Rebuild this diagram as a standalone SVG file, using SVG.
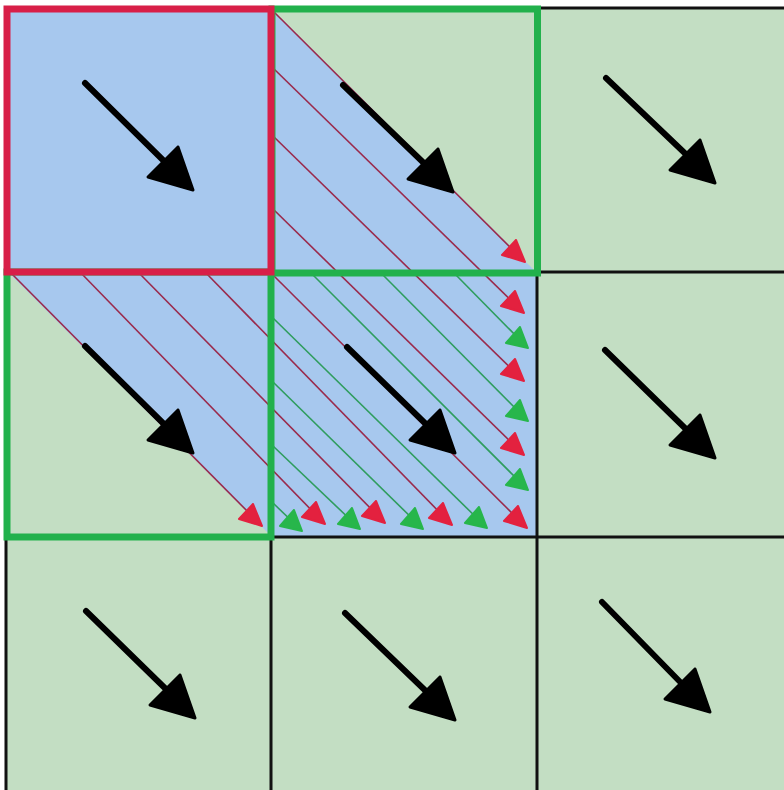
<svg xmlns="http://www.w3.org/2000/svg" xmlns:xlink="http://www.w3.org/1999/xlink" width="784" height="790" viewBox="0 0 784 790">
<style>
.grid{stroke:#111;stroke-width:3;fill:none}
.shaft{stroke:#000;stroke-width:6;stroke-linecap:round;fill:none}
.bh{fill:#000;stroke:#000;stroke-width:3;stroke-linejoin:round}
.rl{stroke:#9a2a4c;stroke-width:1.6;fill:none}
.gl{stroke:#2f9d5e;stroke-width:1.6;fill:none}
.rh{fill:#e3213f;stroke:#e3213f;stroke-width:2;stroke-linejoin:round}
.gh{fill:#27b64b;stroke:#27b64b;stroke-width:2;stroke-linejoin:round}
.gb{fill:none;stroke:#22b14c;stroke-width:7}
.rb{fill:none;stroke:#d81f48;stroke-width:7}
</style>
<defs>
<path id="bh" d="M0,0 L-15,-43 L-45,-13 Z"/>
<path id="rh" d="M0,0 L-9,-22 L-23,-7 Z"/>
<path id="gh" d="M0,0 L-8,-21 L-22,-5 Z"/>
</defs>
<rect x="0" y="0" width="784" height="790" fill="#ffffff"/>
<g id="background">
<rect x="6" y="8" width="778" height="782" fill="#c3dec3"/>
<polygon points="7,9 272,9 538,274 538,537 272,537 7,271" fill="#a7c8ee"/>
</g>
<g id="connectors">
<line class="rl" x1="272" y1="10" x2="522" y2="259"/>
<line class="rl" x1="272" y1="67" x2="521" y2="310"/>
<line class="rl" x1="272" y1="135" x2="521" y2="378"/>
<line class="rl" x1="272" y1="208" x2="521" y2="452"/>
<line class="rl" x1="272" y1="274" x2="524" y2="525"/>
<line class="rl" x1="205" y1="272" x2="449" y2="522"/>
<line class="rl" x1="138" y1="272" x2="382" y2="520"/>
<line class="rl" x1="80" y1="272" x2="322" y2="521"/>
<line class="rl" x1="10" y1="272" x2="259" y2="523"/>
<line class="gl" x1="455" y1="274" x2="525" y2="345"/>
<line class="gl" x1="382" y1="274" x2="525" y2="418"/>
<line class="gl" x1="312" y1="274" x2="525" y2="487"/>
<line class="gl" x1="273" y1="318" x2="484" y2="525"/>
<line class="gl" x1="273" y1="382" x2="420" y2="526"/>
<line class="gl" x1="273" y1="446" x2="357" y2="526"/>
<line class="gl" x1="273" y1="503" x2="299" y2="528"/>
<use href="#rh" class="rh" x="525" y="262"/>
<use href="#rh" class="rh" x="524" y="313"/>
<use href="#rh" class="rh" x="524" y="381"/>
<use href="#rh" class="rh" x="524" y="455"/>
<use href="#rh" class="rh" x="527" y="528"/>
<use href="#rh" class="rh" x="452" y="525"/>
<use href="#rh" class="rh" x="385" y="523"/>
<use href="#rh" class="rh" x="325" y="524"/>
<use href="#rh" class="rh" x="262" y="526"/>
<use href="#gh" class="gh" x="528" y="348"/>
<use href="#gh" class="gh" x="528" y="421"/>
<use href="#gh" class="gh" x="528" y="490"/>
<use href="#gh" class="gh" x="487" y="528"/>
<use href="#gh" class="gh" x="423" y="529"/>
<use href="#gh" class="gh" x="360" y="529"/>
<use href="#gh" class="gh" x="302" y="531"/>
</g>
<g id="grid">
<path class="grid" d="M6,8 H784 M6,272 H784 M6,537 H784 M6,8 V790 M271,8 V790 M537,8 V790"/>
<rect class="gb" x="272" y="9" width="265.5" height="264"/>
<rect class="gb" x="7" y="272" width="264" height="265"/>
<rect class="rb" x="7" y="9" width="264" height="263"/>
</g>
<g id="cell-0-0"><line class="shaft" x1="85" y1="83" x2="170" y2="167"/><use href="#bh" class="bh" x="193" y="190"/></g>
<g id="cell-0-1"><line class="shaft" x1="343" y1="85" x2="430" y2="169"/><use href="#bh" class="bh" x="453" y="192"/></g>
<g id="cell-0-2"><line class="shaft" x1="606" y1="78" x2="692" y2="160"/><use href="#bh" class="bh" x="715" y="183"/></g>
<g id="cell-1-0"><line class="shaft" x1="85" y1="346" x2="170" y2="430"/><use href="#bh" class="bh" x="193" y="453"/></g>
<g id="cell-1-1"><line class="shaft" x1="347" y1="347" x2="432" y2="430"/><use href="#bh" class="bh" x="455" y="453"/></g>
<g id="cell-1-2"><line class="shaft" x1="605" y1="350" x2="692" y2="435"/><use href="#bh" class="bh" x="715" y="458"/></g>
<g id="cell-2-0"><line class="shaft" x1="86" y1="611" x2="172" y2="695"/><use href="#bh" class="bh" x="195" y="718"/></g>
<g id="cell-2-1"><line class="shaft" x1="345" y1="613" x2="432" y2="697"/><use href="#bh" class="bh" x="455" y="720"/></g>
<g id="cell-2-2"><line class="shaft" x1="602" y1="602" x2="687" y2="689"/><use href="#bh" class="bh" x="710" y="712"/></g>
</svg>
